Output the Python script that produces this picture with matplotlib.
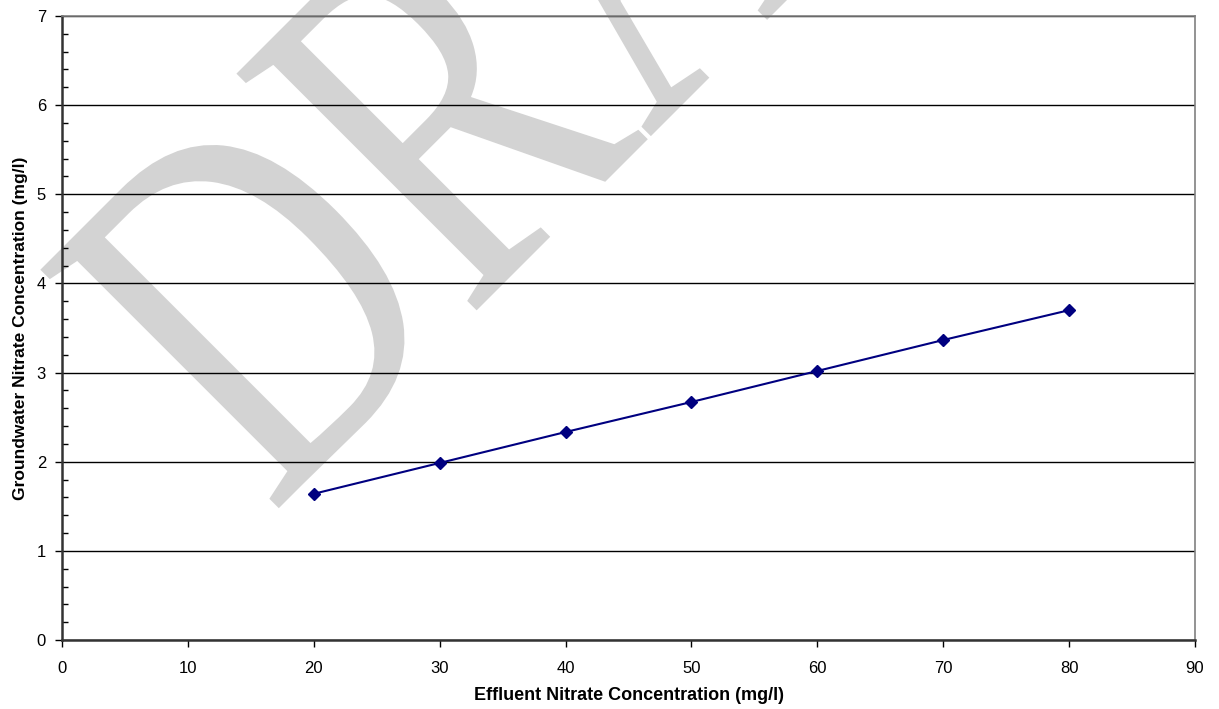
import matplotlib
matplotlib.use('Agg')
import matplotlib.pyplot as plt
from matplotlib.ticker import MultipleLocator
from matplotlib.textpath import TextPath
from matplotlib.patches import PathPatch
from matplotlib.font_manager import FontProperties
from matplotlib.transforms import Affine2D

effluent = [20, 30, 40, 50, 60, 70, 80]
groundwater = [1.64, 1.986, 2.333, 2.67, 3.018, 3.365, 3.70]
x_label = 'Effluent Nitrate Concentration (mg/l)'
y_label = 'Groundwater Nitrate Concentration (mg/l)'
watermark = 'DRAFT'

plt.rcParams['font.family'] = ['Liberation Sans', 'DejaVu Sans']

W, H = 1219, 709
fig = plt.figure(figsize=(W / 100, H / 100), dpi=100)
ax = fig.add_axes([62 / W, 1 - 640 / H, (1195 - 62) / W, (640 - 16) / H])
ax.patch.set_alpha(0)

# watermark: narrow serif text tilted 45 deg, placed in pixel coords
tp = TextPath((0, 0), watermark, size=100,
              prop=FontProperties(family='Liberation Serif'))
wm_tr = Affine2D().scale(3.84, 5.15).rotate_deg(45).translate(271, H - 516)
wm = PathPatch(tp, transform=wm_tr, facecolor='#d3d3d3', edgecolor='none',
               zorder=-1)
fig.add_artist(wm)

ax.plot(effluent, groundwater, color='#000080', lw=1.5, marker='D', ms=6.5,
        mec='#000080', mfc='#000080', zorder=3)

ax.set_xlim(0, 90)
ax.set_ylim(0, 7)
ax.xaxis.set_major_locator(MultipleLocator(10))
ax.yaxis.set_major_locator(MultipleLocator(1))
ax.yaxis.set_minor_locator(MultipleLocator(0.2))
ax.grid(axis='y', which='major', color='black', lw=1)
ax.set_axisbelow(True)

for s in ['top', 'right']:
    ax.spines[s].set_color('#808080')
    ax.spines[s].set_linewidth(1.2)
for s in ['left', 'bottom']:
    ax.spines[s].set_color('#333333')
    ax.spines[s].set_linewidth(1.8)

ax.tick_params(axis='both', which='major', direction='out', length=5,
               width=1, labelsize=12, colors='black')
ax.tick_params(axis='x', which='major', pad=10)
ax.tick_params(axis='y', which='major', pad=6.5)
ax.tick_params(axis='y', which='minor', direction='in', length=4, width=1)

ax.set_xlabel(x_label, fontsize=13, fontweight='bold', labelpad=8)
ax.set_ylabel(y_label, fontsize=12.5, fontweight='bold', labelpad=6)

fig.savefig('out.png', dpi=100)
